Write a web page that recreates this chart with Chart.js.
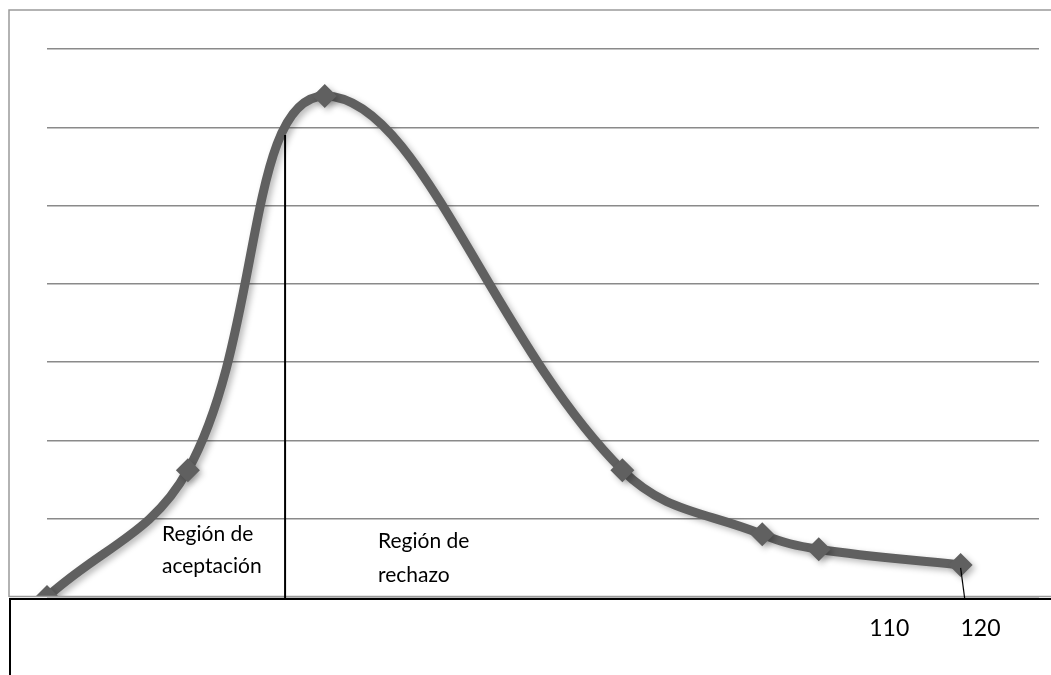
<!DOCTYPE html>
<html>
<head>
<meta charset="utf-8">
<script src="https://cdn.jsdelivr.net/npm/chart.js@4/dist/chart.umd.min.js"></script>
<style>
  html, body { margin: 0; padding: 0; background: #fff; }
  #grafico { display: block; }
</style>
</head>
<body>
<canvas id="grafico" width="1051" height="675"></canvas>
<script>
// datos
const xValores = [0, 14.2, 28.0, 58.0, 72.1, 77.8, 92.1];
const yValores = [0, 1.62, 6.4, 1.62, 0.80, 0.61, 0.41];
const etiquetasX = ["110", "120"];
const posicionesEtiquetas = [84.9, 94.1];
const limiteRegion = 24.0;   // linea que separa las regiones
const limiteAlto = 5.9;

const puntos = xValores.map(function (x, i) { return { x: x, y: yValores[i] }; });

const dibujos = {
    id: "dibujos",
    beforeDatasetsDraw: function (chart) {
        const ctx = chart.ctx;
        ctx.save();
        ctx.shadowColor = "rgba(0,0,0,0.28)";
        ctx.shadowBlur = 6;
        ctx.shadowOffsetX = 3;
        ctx.shadowOffsetY = 3;
    },
    afterDatasetsDraw: function (chart) {
        chart.ctx.restore();
    },
    afterDraw: function (chart) {
        const ctx = chart.ctx;
        const sx = chart.scales.x;
        const sy = chart.scales.y;
        const base = sy.getPixelForValue(0);
        ctx.save();

        // caja inferior blanca
        ctx.fillStyle = "#fff";
        ctx.fillRect(10, base + 1, 1051, 675 - base);

        // marco gris exterior
        ctx.strokeStyle = "#9a9a9a";
        ctx.lineWidth = 1.5;
        ctx.beginPath();
        ctx.moveTo(9, base);
        ctx.lineTo(9, 10);
        ctx.lineTo(1051, 10);
        ctx.stroke();
        ctx.beginPath();
        ctx.moveTo(9, base - 0.5);
        ctx.lineTo(1051, base - 0.5);
        ctx.stroke();

        // caja negra con las etiquetas
        ctx.strokeStyle = "#000";
        ctx.lineWidth = 2;
        ctx.beginPath();
        ctx.moveTo(10, 675);
        ctx.lineTo(10, base + 2);
        ctx.lineTo(1051, base + 2);
        ctx.stroke();

        // linea vertical de separacion
        const xl = sx.getPixelForValue(limiteRegion);
        ctx.lineWidth = 2;
        ctx.beginPath();
        ctx.moveTo(xl, sy.getPixelForValue(limiteAlto));
        ctx.lineTo(xl, base + 1);
        ctx.stroke();

        // pequeña linea en el ultimo punto
        const ult = puntos[puntos.length - 1];
        ctx.lineWidth = 1.2;
        ctx.beginPath();
        ctx.moveTo(sx.getPixelForValue(ult.x), sy.getPixelForValue(ult.y) + 3);
        ctx.lineTo(sx.getPixelForValue(ult.x) + 4, base + 1);
        ctx.stroke();

        // etiquetas del eje
        ctx.fillStyle = "#000";
        ctx.font = "23px Lato, 'Open Sans', sans-serif";
        ctx.textAlign = "center";
        ctx.textBaseline = "middle";
        etiquetasX.forEach(function (t, i) {
            ctx.fillText(t, sx.getPixelForValue(posicionesEtiquetas[i]), base + 32);
        });

        // textos de las regiones
        ctx.font = "21px Lato, 'Open Sans', sans-serif";
        ctx.textAlign = "left";
        ctx.fillText("Región de", 162, 534);
        ctx.fillText("aceptación", 162, 566);
        ctx.fillText("Región de", 378, 541);
        ctx.fillText("rechazo", 378, 575);

        ctx.restore();
    }
};

new Chart(document.getElementById("grafico").getContext("2d"), {
    type: "scatter",
    data: {
        datasets: [
            {
                data: puntos,
                showLine: true,
                borderColor: "#606060",
                backgroundColor: "#606060",
                borderWidth: 9,
                tension: 0.4,
                pointStyle: "rectRot",
                pointRadius: 12,
                pointHoverRadius: 12,
                pointBorderWidth: 0,
                clip: { left: 20, top: 20, right: 20, bottom: 0 },
            },
        ],
    },
    options: {
        responsive: false,
        animation: false,
        events: [],
        layout: { padding: { left: 47, right: 11, top: 49, bottom: 70 } },
        plugins: {
            legend: { display: false },
            tooltip: { enabled: false },
        },
        scales: {
            x: {
                type: "linear",
                min: 0,
                max: 100,
                ticks: { display: false },
                grid: { display: false },
                border: { display: false },
            },
            y: {
                min: 0,
                max: 7,
                ticks: { display: false, stepSize: 1 },
                grid: { color: "#8a8a8a", lineWidth: 1.5, drawTicks: false },
                border: { display: false },
            },
        },
    },
    plugins: [dibujos],
});
</script>
</body>
</html>
